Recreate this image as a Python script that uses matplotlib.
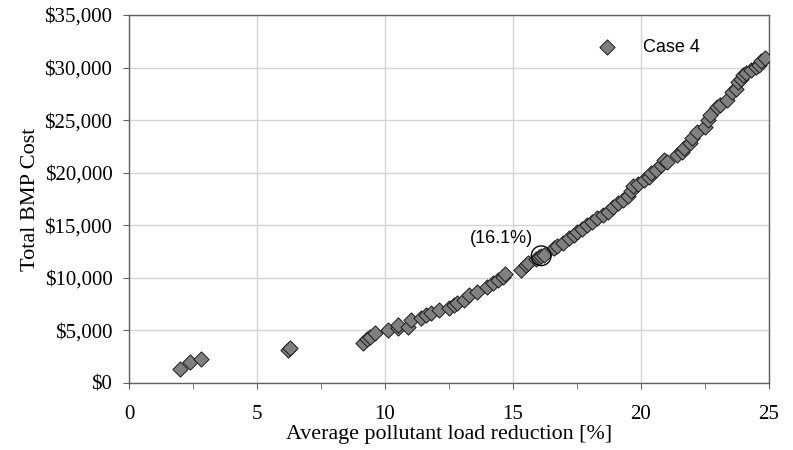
import matplotlib
matplotlib.use("Agg")
import matplotlib.pyplot as plt
from matplotlib.ticker import MultipleLocator, FuncFormatter

# Case 4 trade-off points
reduction = [2.0, 2.4, 2.8, 6.2, 6.3, 9.15, 9.3, 9.4, 9.6, 10.1, 10.5, 10.5, 10.9, 11.0,
             11.4, 11.6, 11.8, 12.1, 12.5, 12.7, 12.8, 13.1, 13.3, 13.6, 14.0, 14.2, 14.4,
             14.6, 14.7, 15.3, 15.5, 15.6, 15.9, 16.0, 16.1, 16.2, 16.6, 16.7, 16.95, 17.2,
             17.4, 17.5, 17.7, 17.9, 18.1, 18.3, 18.5, 18.7, 18.9, 19.1, 19.3, 19.5, 19.6,
             19.7, 19.9, 20.1, 20.3, 20.4, 20.6, 20.8, 20.9, 21.0, 21.4, 21.6, 21.7, 21.9,
             22.0, 22.2, 22.5, 22.6, 22.7, 22.97, 23.1, 23.36, 23.55, 23.7, 23.8, 23.9,
             24.0, 24.1, 24.3, 24.5, 24.6, 24.7, 24.85]
cost = [1300, 2000, 2300, 3100, 3300, 3800, 4200, 4400, 4750, 5000, 5200, 5550, 5300, 6000,
        6200, 6500, 6650, 6950, 7100, 7400, 7600, 7900, 8400, 8650, 9150, 9500, 9800,
        10100, 10400, 10750, 11200, 11400, 11800, 12000, 12100, 12200, 12800, 13000, 13300, 13800,
        14100, 14350, 14600, 15000, 15300, 15700, 16000, 16300, 16700, 17100, 17400, 17800, 18300,
        18700, 18900, 19300, 19600, 20000, 20300, 20700, 21200, 21000, 21700, 22000, 22350, 22800,
        23300, 23900, 24350, 25000, 25500, 26250, 26400, 26900, 27650, 28000, 28600, 28900,
        29300, 29500, 29750, 30100, 30250, 30600, 30900]

# highlighted solution
sel_x = 16.1
sel_y = 12100
sel_label = "(16.1%)"

serif = ["Liberation Serif", "DejaVu Serif"]
sans = ["Liberation Sans", "DejaVu Sans"]

fig = plt.figure(figsize=(7.93, 4.5), dpi=100)
ax = fig.add_axes([0.1627, 0.1489, 0.8070, 0.8178])

ax.scatter(reduction, cost, marker="D", s=60, facecolor="#808080",
           edgecolor="#1a1a1a", linewidth=0.7, zorder=3, label="Case 4")
ax.scatter([sel_x], [sel_y], marker="o", s=200, facecolor="none",
           edgecolor="black", linewidth=1.0, zorder=4)
ax.text(sel_x - 0.32, sel_y + 1600, sel_label, ha="right", va="center",
        fontsize=13, family=sans)

ax.set_xlim(0, 25)
ax.set_ylim(0, 35000)
ax.xaxis.set_major_locator(MultipleLocator(5))
ax.xaxis.set_minor_locator(MultipleLocator(2.5))
ax.yaxis.set_major_locator(MultipleLocator(5000))
ax.yaxis.set_major_formatter(FuncFormatter(lambda v, p: "${:,.0f}".format(v)))

ax.grid(True, which="major", color="#d4d4d4", linewidth=1.0, zorder=0)
ax.set_axisbelow(True)
for s in ax.spines.values():
    s.set_color("#606060")
    s.set_linewidth(1.0)

ax.tick_params(axis="both", which="both", direction="out", color="#606060",
               labelsize=15, length=4)
ax.tick_params(axis="x", which="both", pad=11.5)
ax.tick_params(axis="y", pad=8)
for lab in ax.get_xticklabels() + ax.get_yticklabels():
    lab.set_family(serif)

ax.set_xlabel("Average pollutant load reduction [%]", fontsize=15.8, family=serif, labelpad=1)
ax.set_ylabel("Total BMP Cost", fontsize=16, family=serif, labelpad=3)

leg = ax.legend(loc="upper left", frameon=False, prop={"family": sans, "size": 13},
                bbox_to_anchor=(0.7047, 0.959), borderpad=0, handletextpad=1.0,
                handlelength=2.0)

fig.savefig("out.png", dpi=100)
